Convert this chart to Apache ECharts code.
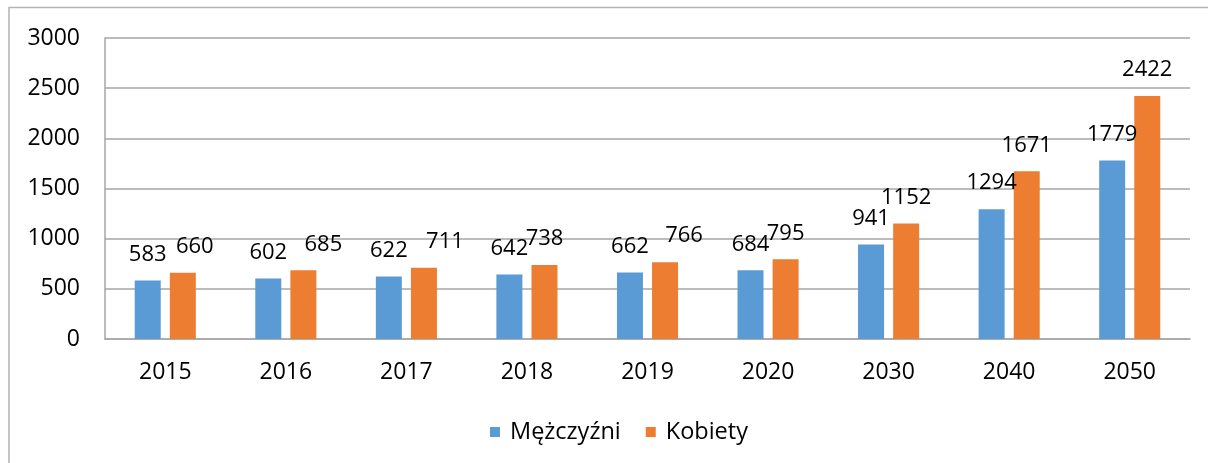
<!DOCTYPE html>
<html>
<head>
<meta charset="utf-8">
<script src="https://cdn.jsdelivr.net/npm/echarts@6/dist/echarts.min.js"></script>
<style>
  html, body { margin: 0; padding: 0; background: #fff; }
  #chart { width: 1208px; height: 463px; }
</style>
</head>
<body>
<div id="chart"></div>
<script>
// Years on the category axis
const years = ['2015', '2016', '2017', '2018', '2019', '2020', '2030', '2040', '2050'];
// Values per series
const men = [583, 602, 622, 642, 662, 684, 941, 1294, 1779];
const women = [660, 685, 711, 738, 766, 795, 1152, 1671, 2422];
// Value axis ticks
const yTicks = [0, 500, 1000, 1500, 2000, 2500, 3000];
// Sideways nudge (px) of the women's value labels so they clear each other
const womenLabelNudge = [12, 20, 21, 0, 19, 0, 0, 0, 0];

const FONT = 'Open Sans';
const labelBase = {
  show: true,
  position: 'top',
  distance: 15,
  color: '#000',
  fontFamily: FONT,
  fontSize: 22
};

const chart = echarts.init(document.getElementById('chart'), null, { renderer: 'canvas' });
chart.setOption({
  animation: false,
  backgroundColor: '#fff',
  textStyle: { fontFamily: FONT },
  graphic: [{
    type: 'rect',
    silent: true,
    z: 100,
    shape: { x: 9, y: 7.5, width: 1240, height: 480 },
    style: { fill: 'none', stroke: '#b3b3b3', lineWidth: 1.5 }
  }],
  grid: { left: 105, right: 18, top: 38, bottom: 124, containLabel: false },
  legend: {
    bottom: 19,
    left: 490,
    padding: 0,
    icon: 'rect',
    itemWidth: 10,
    itemHeight: 10,
    itemGap: 25,
    textStyle: { fontFamily: FONT, fontSize: 23.5, color: '#000', padding: [0, 0, 0, 5] },
    data: ['Mężczyźni', 'Kobiety']
  },
  xAxis: {
    type: 'category',
    data: years,
    axisTick: { show: false },
    axisLine: { lineStyle: { color: '#a6a6a6', width: 1.5 } },
    axisLabel: { color: '#000', fontFamily: FONT, fontSize: 23, margin: 22 }
  },
  yAxis: {
    type: 'value',
    min: yTicks[0],
    max: yTicks[yTicks.length - 1],
    interval: yTicks[1] - yTicks[0],
    axisLine: { show: true, lineStyle: { color: '#a6a6a6', width: 1.5 } },
    axisTick: { show: false },
    splitLine: { lineStyle: { color: '#a6a6a6', width: 1.5 } },
    axisLabel: {
      color: '#000', fontFamily: FONT, fontSize: 23, margin: 25,
      formatter: (v) => String(v)
    }
  },
  series: [
    {
      name: 'Mężczyźni',
      type: 'bar',
      data: men,
      barWidth: 26,
      barGap: '35%',
      itemStyle: { color: '#5b9bd5' },
      label: labelBase
    },
    {
      name: 'Kobiety',
      type: 'bar',
      data: women.map((v, i) => ({
        value: v,
        label: { offset: [womenLabelNudge[i], 0] }
      })),
      barWidth: 26,
      itemStyle: { color: '#ed7d31' },
      label: labelBase
    }
  ]
});
</script>
</body>
</html>
